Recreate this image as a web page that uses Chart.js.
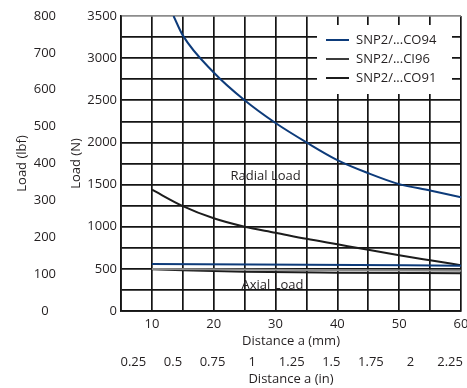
<!DOCTYPE html>
<html><head><meta charset="utf-8">
<script src="https://cdn.jsdelivr.net/npm/chart.js@4/dist/chart.umd.min.js"></script>
<style>html,body{margin:0;padding:0;background:#fff}canvas{display:block}</style>
</head><body>
<canvas id="c" width="467" height="388"></canvas>
<script>
// ---- data ----
const co94RadialMm = [13.5, 15, 20, 25, 30, 35, 40, 45, 50, 55, 60];
const co94RadialN  = [3500, 3270, 2830, 2500, 2230, 2000, 1790, 1635, 1505, 1430, 1350];
const ci96RadialMm = [10, 15, 20, 25, 30, 35, 40, 45, 50, 55, 60];
const ci96RadialN  = [1440, 1245, 1100, 1000, 929, 856, 791, 726, 662, 602, 543];
const co94AxialMm  = [10, 35, 60];
const co94AxialN   = [558, 549, 538];
const ci96AxialMm  = [10, 35, 60];
const ci96AxialN   = [498, 487, 478];
const co91AxialMm  = [10, 25, 40, 60];
const co91AxialN   = [494, 466, 455, 447];
const seriesLabels = ['SNP2/...CO94', 'SNP2/...CI96', 'SNP2/...CO91'];
const seriesColors = ['#0d3b7a', '#3c3c3c', '#1c1c1c'];
const inchTicks = [0.25, 0.5, 0.75, 1, 1.25, 1.5, 1.75, 2, 2.25];
const lbfTicks  = [0, 100, 200, 300, 400, 500, 600, 700, 800];
const noteTexts = ['Radial Load', 'Axial Load'];
const notePoints = [[28.4, 1595], [29.5, 308]];

const TXT = '#231f20';
const GRID = '#141414';
const FONT = "'Open Sans'";
Chart.defaults.font.family = FONT;
Chart.defaults.font.size = 13;
Chart.defaults.color = TXT;

function pts(xs, ys) { return xs.map((x, i) => ({x: x, y: ys[i]})); }

const datasets = [
  {label: seriesLabels[0], data: pts(co94RadialMm, co94RadialN), borderColor: seriesColors[0], borderWidth: 2},
  {label: seriesLabels[0] + ' axial', data: pts(co94AxialMm, co94AxialN), borderColor: seriesColors[0], borderWidth: 2},
  {label: seriesLabels[1], data: pts(ci96RadialMm, ci96RadialN), borderColor: seriesColors[2], borderWidth: 2},
  {label: seriesLabels[1] + ' axial', data: pts(ci96AxialMm, ci96AxialN), borderColor: '#8a8a8a', borderWidth: 2},
  {label: seriesLabels[2] + ' axial', data: pts(co91AxialMm, co91AxialN), borderColor: seriesColors[2], borderWidth: 2}
];
datasets.forEach(d => { d.pointRadius = 0; d.fill = false; d.cubicInterpolationMode = 'monotone'; });

const overlay = {
  id: 'overlay',
  afterDatasetsDraw(chart) {
    const ctx = chart.ctx, a = chart.chartArea, xs = chart.scales.x, ys = chart.scales.y;
    ctx.save();
    ctx.font = "13px " + FONT;
    ctx.fillStyle = TXT;
    ctx.textAlign = 'center';
    ctx.textBaseline = 'middle';
    noteTexts.forEach((t, i) => {
      ctx.fillText(t, xs.getPixelForValue(notePoints[i][0]), ys.getPixelForValue(notePoints[i][1]));
    });
    // legend box
    const lx = a.right - 144, ly = a.top + 9, lw = 135, lh = 69;
    ctx.fillStyle = '#fff';
    ctx.fillRect(lx, ly, lw, lh);
    ctx.textAlign = 'left';
    seriesLabels.forEach((t, i) => {
      const cy = ly + 15 + i * 19;
      ctx.strokeStyle = seriesColors[i];
      ctx.lineWidth = 2;
      ctx.beginPath();
      ctx.moveTo(lx + 9, cy);
      ctx.lineTo(lx + 32, cy);
      ctx.stroke();
      ctx.fillStyle = TXT;
      ctx.fillText(t, lx + 39, cy);
    });
    ctx.restore();
  }
};

new Chart(document.getElementById('c'), {
  type: 'line',
  data: {datasets: datasets},
  plugins: [overlay],
  options: {
    responsive: false,
    animation: false,
    devicePixelRatio: 1,
    layout: {padding: {top: 16, right: 6, left: 0, bottom: 0}},
    plugins: {legend: {display: false}, tooltip: {enabled: false}},
    scales: {
      x: {
        type: 'linear', position: 'bottom', weight: 0, min: 5, max: 60,
        ticks: {stepSize: 5, autoSkip: false, maxRotation: 0, padding: 5,
                callback: v => (v % 10 === 0 ? String(v) : '')},
        grid: {color: GRID, lineWidth: 1.7, drawTicks: false},
        border: {display: true, color: GRID, width: 1.7},
        title: {display: true, text: 'Distance a (mm)', padding: {top: 0, bottom: 2}},
        afterFit: s => { s.height = 40; s.paddingLeft = 0; s.paddingRight = 0; }
      },
      x2: {
        type: 'linear', position: 'bottom', weight: 1, min: 0.172, max: 2.319,
        afterBuildTicks: s => { s.ticks = inchTicks.map(v => ({value: v})); },
        ticks: {autoSkip: false, maxRotation: 0, padding: 3, callback: v => String(v)},
        grid: {display: false, drawTicks: false},
        border: {display: false},
        title: {display: true, text: 'Distance a (in)', padding: {top: 0, bottom: 1}},
        afterFit: s => { s.height = 37; s.paddingLeft = 0; s.paddingRight = 0; }
      },
      y: {
        type: 'linear', position: 'left', weight: 0, min: 0, max: 3500,
        ticks: {stepSize: 250, autoSkip: false, padding: 4,
                callback: v => (v % 500 === 0 ? String(v) : '')},
        grid: {color: c => (c.tick && c.tick.value === 3500 ? '#8c8c8c' : GRID), lineWidth: 1.7, drawTicks: false},
        border: {display: true, color: GRID, width: 1.7},
        title: {display: true, text: 'Load (N)', padding: {top: 6, bottom: 0}},
        afterFit: s => { s.width = 59; s.paddingTop = 0; s.paddingBottom = 0; }
      },
      y2: {
        type: 'linear', position: 'left', weight: 1, min: 0, max: 800,
        afterBuildTicks: s => { s.ticks = lbfTicks.map(v => ({value: v})); },
        ticks: {autoSkip: false, padding: 6, crossAlign: 'center', callback: v => String(v)},
        grid: {display: false, drawTicks: false},
        border: {display: false},
        title: {display: true, text: 'Load (lbf)', padding: {top: 14, bottom: 0}},
        afterFit: s => { s.width = 62; s.paddingTop = 0; s.paddingBottom = 0; }
      }
    }
  }
});
</script>
</body></html>
